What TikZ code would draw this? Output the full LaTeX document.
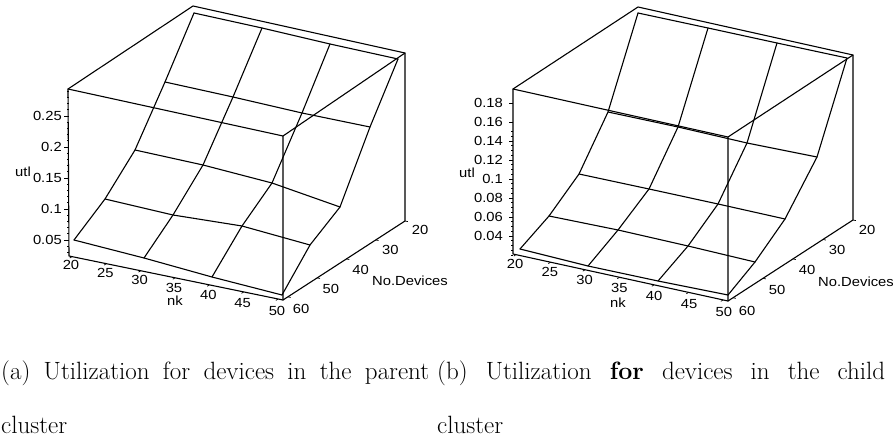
\documentclass[tikz,border=0pt]{standalone}
\usepackage{fontspec}
\usetikzlibrary{calc}
\newfontfamily\plotfont[FakeStretch=1.12]{Liberation Sans}
\begin{document}
\begin{tikzpicture}[x=1pt,y=-1pt,
  frame/.style={line width=1.1pt,line join=round,line cap=round},
  mesh/.style={line width=1.1pt,line join=round,line cap=round},
  tickmark/.style={line width=0.7pt},
  ticklabel/.style={font=\plotfont\fontsize{13.2}{14}\selectfont,inner sep=0pt},
  captext/.style={font=\fontsize{25}{29}\selectfont,inner sep=0pt,anchor=base west}]
\useasboundingbox (0,0) rectangle (893,443);

% ---------- box corners of the two plots ----------
\coordinate (aFLB) at (69,256);  \coordinate (aFRB) at (283,300);
\coordinate (aBRB) at (405,221); \coordinate (aFLT) at (68,89);
\coordinate (aFRT) at (283,136); \coordinate (aBRT) at (405,53);
\coordinate (aBLT) at (193,6);
\coordinate (bFLB) at (513,254); \coordinate (bFRB) at (728,301);
\coordinate (bBRB) at (853,220); \coordinate (bFLT) at (513,89);
\coordinate (bFRT) at (728,137); \coordinate (bBRT) at (853,55);
\coordinate (bBLT) at (638,7);

% ---------- surface meshes: columns nk = 20,30,40,50; rows devices = 60..20 ----------
\foreach \i/\j/\X/\Y in {
  0/0/74/240, 0/1/105/199, 0/2/135/150, 0/3/165/82,  0/4/194/13,
  1/0/144/258,1/1/173/215, 1/2/203/165, 1/3/233/97,  1/4/262/28,
  2/0/212/277,2/1/242/226, 2/2/272/183, 2/3/302/113, 2/4/330/44,
  3/0/282/295,3/1/310/245, 3/2/340/207, 3/3/370/127, 3/4/398/59}
  \coordinate (a\i\j) at (\X,\Y);
\foreach \i/\j/\X/\Y in {
  0/0/520/249, 0/1/549/216, 0/2/579/174, 0/3/608/112, 0/4/638/13,
  1/0/588/266, 1/1/618/230, 1/2/649/189, 1/3/678/127, 1/4/708/28,
  2/0/658/281, 2/1/688/246, 2/2/718/204, 2/3/747/143, 2/4/777/43,
  3/0/728/295, 3/1/755/262, 3/2/785/219, 3/3/817/157, 3/4/847/58}
  \coordinate (b\i\j) at (\X,\Y);

\foreach \p in {a,b}{
  \foreach \j in {0,...,4}
    \draw[mesh] (\p0\j) -- (\p1\j) -- (\p2\j) -- (\p3\j);
  \foreach \i in {0,...,3}
    \draw[mesh] (\p\i0) -- (\p\i1) -- (\p\i2) -- (\p\i3) -- (\p\i4);
  % box frame
  \draw[frame] (\p FLB) -- (\p FRB) -- (\p BRB) -- (\p BRT) -- (\p BLT) -- (\p FLT) -- cycle;
  \draw[frame] (\p FLT) -- (\p FRT) -- (\p FRB);
  \draw[frame] (\p FRT) -- (\p BRT);
  % nk ticks on the front bottom edge
  \foreach \k in {0,...,6}
    \draw[tickmark] ($(\p FLB)!{0.014+0.1605*\k}!(\p FRB)$) -- ++(-2.2,1.4);
  % device ticks on the right bottom edge
  \foreach \k in {0,...,4}
    \draw[tickmark] ($(\p FRB)!{0.04+0.24*\k}!(\p BRB)$) -- ++(2.8,0.6);
}

% ---------- vertical axis of plot (a) ----------
\foreach \m in {3,...,29}
  \draw[tickmark] (68.5,{240-(\m-5)*6.2}) -- ++(-1.8,0);
\foreach \k/\lab in {0/0.05,1/0.1,2/0.15,3/0.2,4/0.25}{
  \draw[tickmark] (68.5,{240-31*\k}) -- ++(-4.5,0);
  \node[ticklabel,anchor=east] (az\k) at (62,{240-31*\k}) {\lab};
}
\node[ticklabel,anchor=west] (autl) at (15,172) {utl};

% ---------- vertical axis of plot (b) ----------
\foreach \m in {3,...,30}
  \draw[tickmark] (513,{236-(\m-8)*4.75}) -- ++(-1.8,0);
\foreach \k/\lab in {0/0.04,1/0.06,2/0.08,3/0.1,4/0.12,5/0.14,6/0.16,7/0.18}{
  \draw[tickmark] (513,{236-19*\k}) -- ++(-4.5,0);
  \node[ticklabel,anchor=east] (bz\k) at (503,{236-19*\k}) {\lab};
}
\node[ticklabel,anchor=west] (butl) at (459,173) {utl};

% ---------- nk and device labels ----------
\foreach \k/\lab in {0/20,1/25,2/30,3/35,4/40,5/45,6/50}{
  \node[ticklabel] (anx\k) at ({71+34.33*\k},{265+7.6*\k}) {\lab};
  \node[ticklabel] (bnx\k) at ({515+34.8*\k},{264+8*\k}) {\lab};
}
\node[ticklabel] (ank) at (175,301) {nk};
\node[ticklabel] (bnk) at (618,303) {nk};
\foreach \k/\lab in {0/60,1/50,2/40,3/30,4/20}{
  \node[ticklabel] (adv\k) at ({301+29.75*\k},{309-19.75*\k}) {\lab};
  \node[ticklabel] (bdv\k) at ({747+30*\k},{310.5-20.2*\k}) {\lab};
}
\node[ticklabel,anchor=west] (anod) at (372,281) {No.Devices};
\node[ticklabel,anchor=west] (bnod) at (818,282) {No.Devices};

% ---------- captions ----------
\node[captext] (capa1) at (1,379) {\makebox[428pt][s]{(a) Utilization for devices in the parent}};
\node[captext] (capa2) at (1,433) {cluster};
\node[captext] (capb1) at (437,379) {\makebox[448pt][s]{(b) Utilization \textbf{for} devices in the child}};
\node[captext] (capb2) at (437,433) {cluster};
\end{tikzpicture}
\end{document}
